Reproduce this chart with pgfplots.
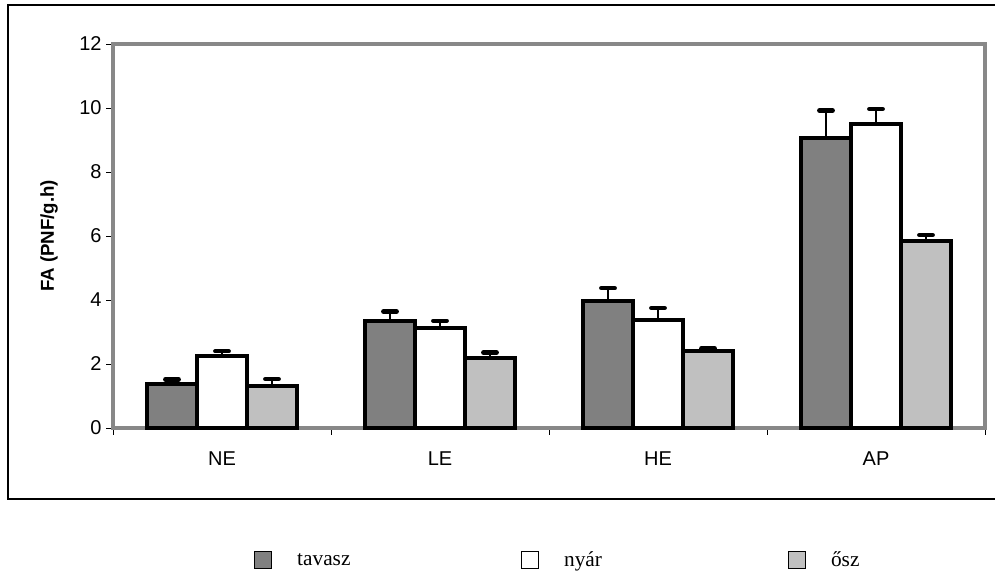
\documentclass[border=0pt]{standalone}
\usepackage{pgfplots}
\pgfplotsset{compat=1.18}
\usepackage{fontspec}
\setmainfont{Liberation Serif}
\setsansfont{Liberation Sans}
\definecolor{c1}{HTML}{808080}
\definecolor{c3}{HTML}{C0C0C0}
\definecolor{axgray}{HTML}{888888}
\pgfplotsset{
  ebar/.style={
    /pgfplots/error bars/y dir=plus, /pgfplots/error bars/y explicit,
    /pgfplots/error bars/error mark=|,
    /pgfplots/error bars/error bar style={line width=2.2pt, black},
    /pgfplots/error bars/error mark options={line width=3.4pt, mark size=5pt, black, line cap=round}}
}
\begin{document}
\begin{tikzpicture}
\begin{scope}[x=0.75pt,y=0.75pt]
\useasboundingbox (0,0) rectangle (995,572);
\clip (0,0) rectangle (995,572);
\draw[black, line width=1.1pt] (8,73) rectangle (1010,567);
\end{scope}
\begin{axis}[
  at={(84.75pt,108pt)}, anchor=south west,
  scale only axis, width=654pt, height=288pt,
  xmin=-0.5, xmax=3.5, ymin=0, ymax=12,
  ybar=0pt, bar width=37.5pt,
  clip=false,
  axis line style={draw=axgray, line width=2.6pt},
  tick pos=left, tick align=outside,
  ytick={0,2,4,6,8,10,12},
  xtick={0,1,2,3}, xticklabels={NE,LE,HE,AP},
  minor xtick={-0.5,0.5,1.5,2.5,3.5},
  major x tick style={draw=none},
  minor x tick style={black, line width=0.6pt},
  y tick style={black, line width=0.6pt},
  major tick length=5pt, minor tick length=5pt,
  tick label style={font=\sffamily\fontsize{15}{18}\selectfont},
  /pgf/number format/assume math mode=true,
  xticklabel style={yshift=-9pt},
  ylabel={\bfseries\sffamily FA (PNF/g.h)},
  ylabel style={at={(axis description cs:-0.0734,0.5)}, anchor=center, font=\sffamily\fontsize{14}{17}\selectfont},
  legend columns=3,
  legend style={draw=none, fill=none, inner sep=0pt, nodes={inner sep=0pt}, at={(axis description cs:0.1617,-0.344)}, anchor=west, font=\rmfamily\fontsize{16}{19}\selectfont, cells={anchor=west}},
  legend image code/.code={\draw[#1, draw=black, line width=0.7pt] (0pt,-6.4pt) rectangle (12.75pt,6.4pt);},
]
\addplot[fill=c1, draw=black, line width=3.1pt, ebar]
  coordinates {(0,1.38) +- (0,0.14) (1,3.35) +- (0,0.29) (2,3.96) +- (0,0.41) (3,9.05) +- (0,0.87)};
\addlegendentry{\makebox[186.75pt][l]{\hspace*{18.75pt}tavasz}}
\addplot[fill=white, draw=black, line width=3.1pt, ebar]
  coordinates {(0,2.25) +- (0,0.15) (1,3.12) +- (0,0.23) (2,3.37) +- (0,0.38) (3,9.50) +- (0,0.47)};
\addlegendentry{\makebox[186.75pt][l]{\hspace*{18.75pt}nyár}}
\addplot[fill=c3, draw=black, line width=3.1pt, ebar]
  coordinates {(0,1.32) +- (0,0.21) (1,2.19) +- (0,0.17) (2,2.41) +- (0,0.08) (3,5.85) +- (0,0.18)};
\addlegendentry{\hspace*{18.75pt}ősz}
\end{axis}
\end{tikzpicture}
\end{document}
